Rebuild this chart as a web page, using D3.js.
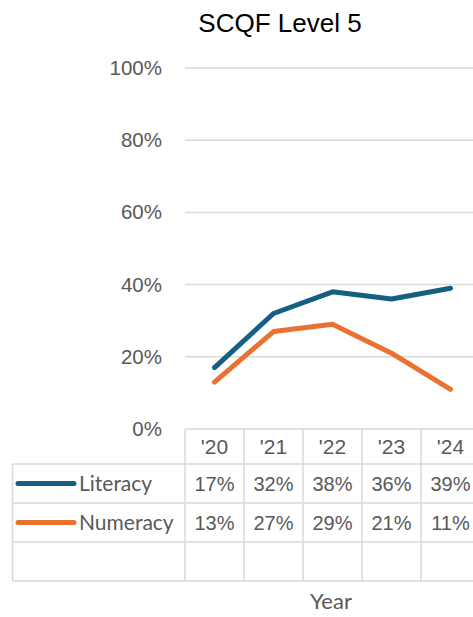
<!DOCTYPE html>
<html>
<head>
<meta charset="utf-8">
<script src="https://cdn.jsdelivr.net/npm/d3@7"></script>
<style>
  body { margin: 0; background: #fff; }
  svg { display: block; }
</style>
</head>
<body>
<div id="chart"></div>
<script>
// data
const years = ["'20", "'21", "'22", "'23", "'24"];
const literacy = [17, 32, 38, 36, 39];
const numeracy = [13, 27, 29, 21, 11];
const seriesNames = ["Literacy", "Numeracy"];
const seriesColors = ["#156082", "#E97132"];
const yTicks = [0, 20, 40, 60, 80, 100];

const width = 473, height = 617;
const svg = d3.select("#chart").append("svg")
    .attr("width", width)
    .attr("height", height);

const x = d3.scaleBand().domain(years).range([185, 480]);
const y = d3.scaleLinear().domain([0, 100]).range([429, 68]);

// title
svg.append("text")
    .attr("x", 280).attr("y", 32)
    .attr("text-anchor", "middle")
    .attr("font-family", "Liberation Sans, Arial, sans-serif")
    .attr("font-size", 26)
    .attr("fill", "#000")
    .text("SCQF Level 5");

// gridlines
svg.append("g").selectAll("line")
    .data(yTicks.filter(d => d > 0))
    .enter().append("line")
    .attr("x1", 185).attr("x2", width)
    .attr("y1", d => y(d)).attr("y2", d => y(d))
    .attr("stroke", "#d9d9d9")
    .attr("stroke-width", 1.5);

// y axis labels
const yAxis = d3.axisLeft(y).tickValues(yTicks).tickFormat(d => d + "%").tickSize(0).tickPadding(0);
const gy = svg.append("g").attr("transform", "translate(162,0)").call(yAxis);
gy.select(".domain").remove();
gy.selectAll("text")
    .attr("font-family", "Liberation Sans, Arial, sans-serif")
    .attr("font-size", 20.5)
    .attr("fill", "#595959");

// lines
const line = d3.line()
    .x((d, i) => x(years[i]) + x.bandwidth() / 2)
    .y(d => y(d));

[literacy, numeracy].forEach((s, i) => {
    svg.append("path")
        .datum(s)
        .attr("d", line)
        .attr("fill", "none")
        .attr("stroke", seriesColors[i])
        .attr("stroke-width", 5)
        .attr("stroke-linejoin", "round")
        .attr("stroke-linecap", "round");
});

// data table
const rowEdges = [429, 464, 503, 542, 581];
const tableLeft = 12.5;
const tg = svg.append("g");
const gridColor = "#d9d9d9";

// horizontal lines
rowEdges.forEach((ry, i) => {
    tg.append("line")
        .attr("x1", i === 0 ? 185 : tableLeft).attr("x2", 480)
        .attr("y1", ry).attr("y2", ry)
        .attr("stroke", gridColor).attr("stroke-width", 1.5);
});
// vertical lines
tg.append("line")
    .attr("x1", tableLeft).attr("x2", tableLeft)
    .attr("y1", rowEdges[1]).attr("y2", rowEdges[4])
    .attr("stroke", gridColor).attr("stroke-width", 1.5);
tg.selectAll(".vcol")
    .data(years)
    .enter().append("line")
    .attr("class", "vcol")
    .attr("x1", d => x(d)).attr("x2", d => x(d))
    .attr("y1", rowEdges[0]).attr("y2", rowEdges[4])
    .attr("stroke", gridColor).attr("stroke-width", 1.5);

// header years
tg.selectAll(".yr")
    .data(years)
    .enter().append("text")
    .attr("class", "yr")
    .attr("x", d => x(d) + x.bandwidth() / 2)
    .attr("y", (rowEdges[0] + rowEdges[1]) / 2)
    .attr("dy", "0.36em")
    .attr("text-anchor", "middle")
    .attr("font-family", "Liberation Sans, Arial, sans-serif")
    .attr("font-size", 21)
    .attr("fill", "#595959")
    .text(d => d);

// series rows
[literacy, numeracy].forEach((s, i) => {
    const cy = (rowEdges[i + 1] + rowEdges[i + 2]) / 2;
    tg.append("line")
        .attr("x1", 18).attr("x2", 74)
        .attr("y1", cy).attr("y2", cy)
        .attr("stroke", seriesColors[i])
        .attr("stroke-width", 5)
        .attr("stroke-linecap", "round");
    tg.append("text")
        .attr("x", 79).attr("y", cy)
        .attr("dy", "0.36em")
        .attr("font-family", "Lato, sans-serif")
        .attr("font-size", 21)
        .attr("fill", "#595959")
        .text(seriesNames[i]);
    tg.selectAll(".v" + i)
        .data(s)
        .enter().append("text")
        .attr("class", "v" + i)
        .attr("x", (d, j) => x(years[j]) + x.bandwidth() / 2)
        .attr("y", cy)
        .attr("dy", "0.36em")
        .attr("text-anchor", "middle")
        .attr("font-family", "Liberation Sans, Arial, sans-serif")
        .attr("font-size", 20)
        .attr("fill", "#595959")
        .text(d => d + "%");
});

// axis title
svg.append("text")
    .attr("x", 331).attr("y", 609)
    .attr("text-anchor", "middle")
    .attr("font-family", "Lato, sans-serif")
    .attr("font-size", 22)
    .attr("fill", "#595959")
    .text("Year");
</script>
</body>
</html>
